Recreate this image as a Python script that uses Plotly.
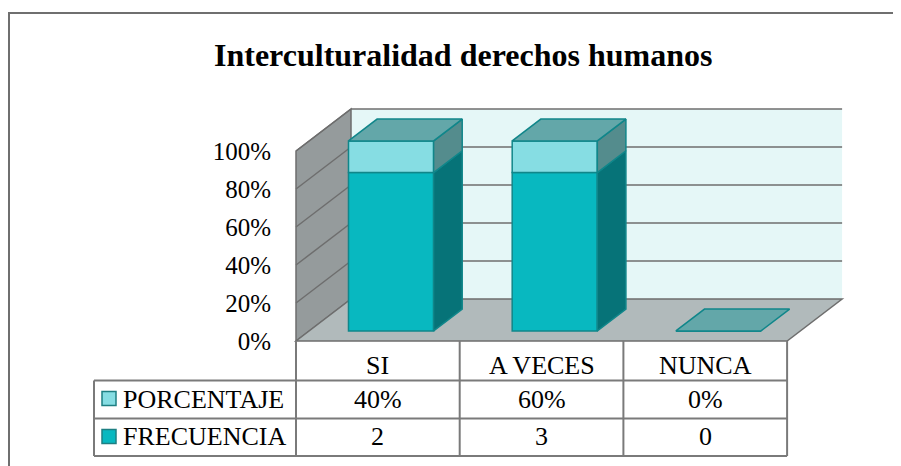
import plotly.graph_objects as go

# ---------------- data ----------------
categories = ["SI", "A VECES", "NUNCA"]
frecuencia = [2, 3, 0]
porcentaje = [0.40, 0.60, 0.0]
row_names = ["PORCENTAJE", "FRECUENCIA"]
y_ticks = [0, 0.2, 0.4, 0.6, 0.8, 1.0]
y_tick_labels = ["0%", "20%", "40%", "60%", "80%", "100%"]
title_text = "Interculturalidad derechos humanos"

# ---------------- geometry / styles ----------------
OFF = 8                 # page body margin
W, H = 901 - OFF, 466 - OFF
PX0, PXW = 296 - OFF, 163.7   # pixel of category edge 0, pixels per category
PY0, PYH = 341 - OFF, 190     # pixel of 0 %, pixels per 100 %


def X(px):
    return (px - OFF - PX0) / PXW


def Y(py):
    return (PY0 - (py - OFF)) / PYH


DX, DY = 55 / PXW, 42 / PYH   # full depth of the 3-D box
D0, D1 = 0.24, 0.76           # bar depth band
BW = 0.52                     # bar width
FONT = "Liberation Serif"

C_FREQ, C_FREQ_SIDE = "#08B8C0", "#067378"
C_PORC, C_PORC_SIDE = "#86DDE3", "#548C8D"
C_TOP = "#63A7A9"
C_EDGE = "#10868A"
C_GRID = "#6E6E6E"
C_TABLE = "#7A7A7A"

n = len(categories)
totals = [f + p for f, p in zip(frecuencia, porcentaje)]
f_frac = [f / t if t else 0 for f, t in zip(frecuencia, totals)]
p_frac = [p / t if t else 0 for p, t in zip(porcentaje, totals)]

fig = go.Figure()

base0 = D0 * DY
xc = [i + 0.5 + D0 * DX for i in range(n)]
bd = D1 - D0

# front faces (library bars)
fig.add_trace(go.Bar(x=xc, y=f_frac, base=[base0] * n, width=BW,
                     marker=dict(color=C_FREQ, line=dict(color=C_EDGE, width=1.5)),
                     hoverinfo="skip"))
fig.add_trace(go.Bar(x=xc, y=p_frac, base=[base0 + v for v in f_frac], width=BW,
                     marker=dict(color=C_PORC, line=dict(color=C_EDGE, width=1.5)),
                     hoverinfo="skip"))


def side_poly(xr, yb, yt):
    return ([xr, xr + bd * DX, xr + bd * DX, xr, xr, None],
            [yb, yb + bd * DY, yt + bd * DY, yt, yb, None])


# side faces
for vals_lo, vals_h, col in [([0] * n, f_frac, C_FREQ_SIDE),
                             (f_frac, p_frac, C_PORC_SIDE)]:
    xs, ys = [], []
    for i in range(n):
        if vals_h[i] <= 0:
            continue
        xr = xc[i] + BW / 2
        yb = base0 + vals_lo[i]
        yt = yb + vals_h[i]
        a, b = side_poly(xr, yb, yt)
        xs += a
        ys += b
    if xs:
        fig.add_trace(go.Scatter(x=xs, y=ys, mode="lines", fill="toself", fillcolor=col,
                                 line=dict(color=C_EDGE, width=1.5), hoverinfo="skip"))

# top faces
xs, ys = [], []
for i in range(n):
    xl, xr = xc[i] - BW / 2, xc[i] + BW / 2
    yt = base0 + f_frac[i] + p_frac[i]
    xs += [xl, xr, xr + bd * DX, xl + bd * DX, xl, None]
    ys += [yt, yt, yt + bd * DY, yt + bd * DY, yt, None]
fig.add_trace(go.Scatter(x=xs, y=ys, mode="lines", fill="toself", fillcolor=C_TOP,
                         line=dict(color=C_EDGE, width=1.5), hoverinfo="skip"))

# ---------------- walls, floor, grid ----------------
shapes = []


def path(pts):
    return "M " + " L ".join(f"{x},{y}" for x, y in pts) + " Z"


ymax = y_ticks[-1]
shapes.append(dict(type="path", xref="x", yref="y", layer="below",
                   path=path([(DX, DY), (n + DX, DY), (n + DX, ymax + DY), (DX, ymax + DY)]),
                   fillcolor="#E5F7F7", line=dict(width=0)))
shapes.append(dict(type="path", xref="x", yref="y", layer="below",
                   path=path([(0, 0), (DX, DY), (DX, ymax + DY), (0, ymax)]),
                   fillcolor="#959B9C", line=dict(color=C_GRID, width=1.5)))
shapes.append(dict(type="path", xref="x", yref="y", layer="below",
                   path=path([(0, 0), (n, 0), (n + DX, DY), (DX, DY)]),
                   fillcolor="#B1BABB", line=dict(color=C_GRID, width=1.5)))
for v in y_ticks[1:]:
    shapes.append(dict(type="line", xref="x", yref="y", layer="below",
                       x0=DX, x1=n + DX, y0=v + DY, y1=v + DY,
                       line=dict(color=C_GRID, width=1.5)))
    shapes.append(dict(type="line", xref="x", yref="y", layer="below",
                       x0=0, x1=DX, y0=v, y1=v + DY,
                       line=dict(color=C_GRID, width=1.5)))

# ---------------- data table ----------------
y_hdr_bot, y_r1_bot, y_r2_bot = Y(380.5), Y(418.5), Y(456)
x_leg = X(94)
for i in range(n + 1):
    shapes.append(dict(type="line", xref="x", yref="y", x0=i, x1=i, y0=0, y1=y_r2_bot,
                       line=dict(color=C_TABLE, width=2)))
shapes.append(dict(type="line", xref="x", yref="y", x0=x_leg, x1=x_leg, y0=y_hdr_bot,
                   y1=y_r2_bot, line=dict(color=C_TABLE, width=2)))
for yy in (y_hdr_bot, y_r1_bot, y_r2_bot):
    shapes.append(dict(type="line", xref="x", yref="y", x0=x_leg, x1=n, y0=yy, y1=yy,
                       line=dict(color=C_TABLE, width=2)))

# legend keys
for (yt_, yb_), col in [((Y(391.5), Y(405.5)), C_PORC), ((Y(429.5), Y(443.5)), C_FREQ)]:
    shapes.append(dict(type="rect", xref="x", yref="y", x0=X(102), x1=X(116),
                       y0=yb_, y1=yt_, fillcolor=col, line=dict(color="#1E7F82", width=1.5)))

# outer border
shapes.append(dict(type="rect", xref="paper", yref="paper", x0=(9 - OFF) / W, x1=1.2,
                   y0=-0.2, y1=1 - (13 - OFF) / H, line=dict(color="#6F6F6F", width=2)))

annotations = []
tf = dict(family=FONT, size=26, color="black")
for i, c in enumerate(categories):
    annotations.append(dict(x=i + 0.5, y=Y(365), xref="x", yref="y", text=c,
                            showarrow=False, font=tf))
    annotations.append(dict(x=i + 0.5, y=Y(399), xref="x", yref="y",
                            text=f"{porcentaje[i]:.0%}", showarrow=False, font=tf))
    annotations.append(dict(x=i + 0.5, y=Y(436.5), xref="x", yref="y",
                            text=f"{frecuencia[i]}", showarrow=False, font=tf))
for name, yy in zip(row_names, (Y(399), Y(436.5))):
    annotations.append(dict(x=X(120.5), y=yy, xref="x", yref="y", text=name,
                            xanchor="left", showarrow=False, font=tf))

annotations.append(dict(x=(463 - OFF) / W, y=1 - (55 - OFF) / H, xref="paper", yref="paper",
                        text=f"<b>{title_text}</b>", showarrow=False,
                        xanchor="center", yanchor="middle",
                        font=dict(family=FONT, size=32, color="black")))

fig.update_layout(
    width=W, height=H, margin=dict(l=0, r=0, t=0, b=0),
    paper_bgcolor="white", plot_bgcolor="white",
    showlegend=False, barmode="overlay",
    font=dict(family=FONT),
    shapes=shapes, annotations=annotations,
    xaxis=dict(range=[X(OFF), X(OFF + W)], visible=False, fixedrange=True),
    yaxis=dict(range=[Y(OFF + H), Y(OFF)], anchor="free", position=PX0 / W,
               showgrid=False, zeroline=False, showline=False,
               tickvals=y_ticks, ticktext=y_tick_labels,
               tickfont=dict(family=FONT, size=25, color="black"),
               ticks="outside", ticklen=20,
               tickcolor="rgba(0,0,0,0)", fixedrange=True),
)

fig.write_html("out.html")
